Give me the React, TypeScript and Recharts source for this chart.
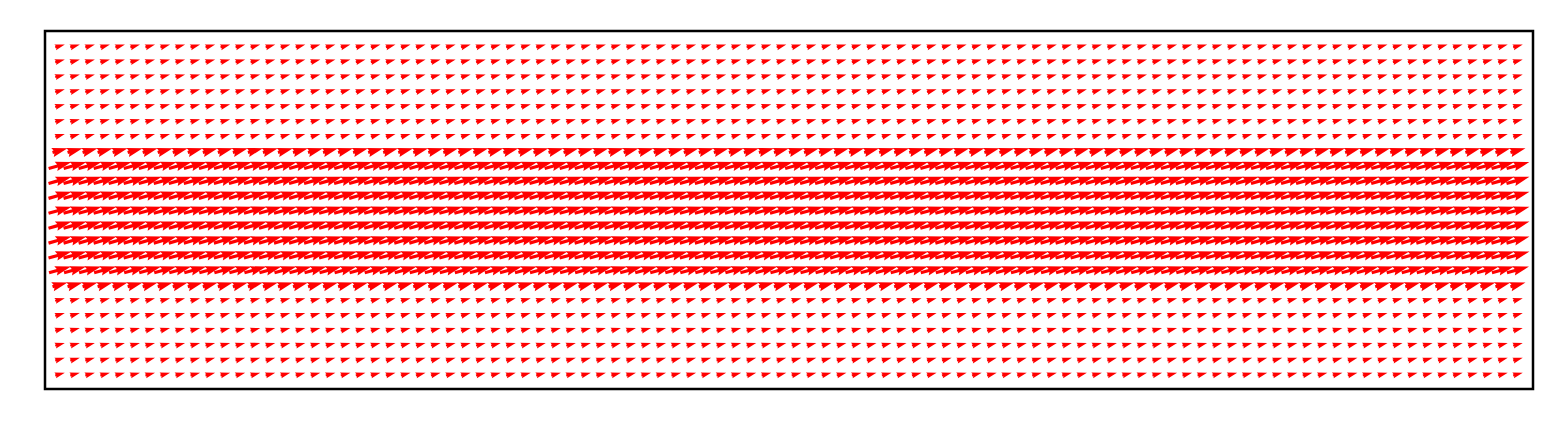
import { ScatterChart, Scatter, XAxis, YAxis, ReferenceArea } from "recharts";

// quiver grid: 98 columns x 23 rows, field only varies by row
const COLUMNS = Array.from({ length: 98 }, (_, i) => i);
const ROWS = Array.from({ length: 23 }, (_, i) => i);

// x component per row (top row first)
const ROW_U = [
  0.385, 0.385, 0.385, 0.385, 0.385, 0.385, 0.385,
  0.6,
  0.91, 0.92, 0.92, 0.92, 0.92, 0.92, 0.92, 0.88,
  0.6,
  0.385, 0.385, 0.385, 0.385, 0.385, 0.385,
];
// y component per row (top row first)
const ROW_V = [
  0.11, 0.11, 0.11, 0.11, 0.11, 0.11, 0.11,
  0.17,
  0.26, 0.265, 0.265, 0.265, 0.265, 0.265, 0.265, 0.25,
  0.17,
  0.11, 0.11, 0.11, 0.11, 0.11, 0.11,
];

const QUIVER_SCALE = 25; // px per unit of vector length
const SHAFT = 3.2; // shaft width in px
const HEAD_WIDTH = 3;
const HEAD_LENGTH = 5;
const HEAD_AXIS = 4.5;
const ARROW_COLOR = "#ff0000";

const data = ROWS.flatMap(r =>
  COLUMNS.map(c => ({ x: c, y: r, u: ROW_U[r], v: ROW_V[r] }))
);

function Arrow(props: any) {
  const { cx, cy, payload } = props;
  if (cx == null || cy == null) return null;
  const len = (Math.hypot(payload.u, payload.v) * QUIVER_SCALE) / SHAFT;
  const minsh = HEAD_LENGTH;
  let xs: number[];
  let ys: number[];
  if (len < minsh) {
    const s = len / minsh;
    xs = [0, minsh - HEAD_AXIS, minsh - HEAD_LENGTH, minsh].map(v => v * s);
    ys = [0.5, 0.5, HEAD_WIDTH / 2, 0].map(v => v * s);
  } else {
    xs = [0, len - HEAD_AXIS, len - HEAD_LENGTH, len];
    ys = [0.5, 0.5, HEAD_WIDTH / 2, 0];
  }
  const half = xs[3] / 2;
  const pts: [number, number][] = [
    [xs[0], ys[0]], [xs[1], ys[1]], [xs[2], ys[2]], [xs[3], 0],
    [xs[2], -ys[2]], [xs[1], -ys[1]], [xs[0], -ys[0]],
  ];
  const th = Math.atan2(payload.v, payload.u);
  const cos = Math.cos(th);
  const sin = Math.sin(th);
  const str = pts
    .map(([x, y]) => {
      const px = (x - half) * SHAFT;
      const py = y * SHAFT;
      const X = px * cos - py * sin;
      const Y = px * sin + py * cos;
      return `${(cx + X).toFixed(2)},${(cy - Y).toFixed(2)}`;
    })
    .join(" ");
  return <polygon points={str} fill={ARROW_COLOR} stroke="none" />;
}

export default function App() {
  return (
    <div style={{ position: "absolute", left: 0, top: 0, background: "#fff" }}>
      <ScatterChart
        width={1562}
        height={435}
        margin={{ top: 31, right: 29, bottom: 46, left: 45 }}
      >
        <XAxis type="number" dataKey="x" domain={[-1, 98]} hide allowDataOverflow />
        <YAxis type="number" dataKey="y" domain={[-1, 23]} reversed hide allowDataOverflow />
        <Scatter data={data} shape={<Arrow />} isAnimationActive={false} />
        <ReferenceArea
          x1={-1}
          x2={98}
          y1={-1}
          y2={23}
          fill="none"
          fillOpacity={0}
          stroke="#000"
          strokeWidth={2.5}
          ifOverflow="visible"
        />
      </ScatterChart>
    </div>
  );
}
